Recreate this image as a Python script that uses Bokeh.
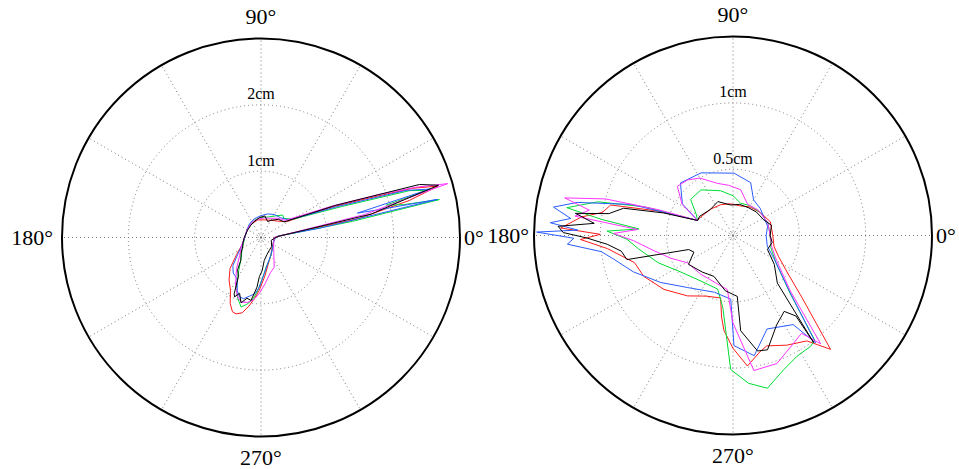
import numpy as np
from bokeh.plotting import figure
from bokeh.layouts import row
from bokeh.models import Range1d
from bokeh.embed import file_html
from bokeh.resources import INLINE
from bokeh.core.properties import value

# ---------------- data (angle in degrees, radius in cm) ----------------
# Left panel (outer ring = 3 cm)
L_black_th = [0, 4, 12, 14.8, 16.4, 18.5, 23.3, 34, 46, 60, 67, 80, 95, 113, 130, 151, 178, 195, 207, 218, 228.6, 234, 240, 244.5, 246, 249, 253, 257, 261, 265.4, 267.6, 272, 278, 290, 303, 320, 345, 356, 360]
L_black_r = [0.22, 0.27, 1.70, 2.24, 2.79, 2.52, 1.23, 0.42, 0.38, 0.30, 0.26, 0.33, 0.30, 0.26, 0.24, 0.23, 0.25, 0.28, 0.31, 0.38, 0.46, 0.60, 0.68, 0.94, 0.98, 0.90, 1.03, 0.94, 0.96, 0.75, 0.59, 0.50, 0.35, 0.27, 0.23, 0.21, 0.16, 0.20, 0.22]

L_magenta_th = [0, 5, 12.5, 15, 16.1, 18, 20, 24, 35, 50, 65, 80, 100, 120, 145, 170, 190, 205, 220, 232, 242, 248, 253, 258, 263, 268, 275, 285, 294, 310, 330, 350, 360]
L_magenta_r = [0.20, 0.30, 1.60, 2.30, 2.93, 2.45, 1.90, 1.15, 0.45, 0.38, 0.32, 0.30, 0.28, 0.27, 0.24, 0.24, 0.27, 0.33, 0.42, 0.60, 0.82, 0.95, 1.02, 1.00, 0.95, 0.85, 0.70, 0.55, 0.49, 0.30, 0.22, 0.20, 0.20]

L_green_th = [0, 5, 10, 12.0, 13, 14.5, 15.8, 17.5, 21, 30, 40, 46, 55, 70, 90, 110, 130, 150, 175, 195, 210, 225, 236, 244, 249, 254, 258, 262, 266, 272, 280, 292, 305, 325, 345, 360]
L_green_r = [0.22, 0.28, 1.40, 2.75, 2.20, 1.95, 2.61, 2.35, 1.30, 0.55, 0.45, 0.47, 0.40, 0.33, 0.30, 0.28, 0.26, 0.24, 0.24, 0.27, 0.33, 0.42, 0.60, 0.85, 0.98, 1.09, 1.03, 0.95, 0.82, 0.62, 0.45, 0.35, 0.28, 0.22, 0.20, 0.22]

L_blue_th = [0, 5, 9, 12.2, 13.2, 14.2, 16.0, 18, 22, 32, 45, 60, 74, 90, 110, 130, 155, 178, 200, 215, 225, 232, 240, 246, 250, 254, 259, 264, 268, 275, 285, 300, 320, 340, 360]
L_blue_r = [0.22, 0.26, 0.90, 2.72, 1.85, 1.50, 2.65, 2.30, 1.25, 0.50, 0.42, 0.40, 0.37, 0.33, 0.30, 0.27, 0.24, 0.24, 0.30, 0.42, 0.60, 0.68, 0.72, 0.88, 0.95, 0.96, 0.90, 0.85, 0.75, 0.55, 0.40, 0.30, 0.23, 0.20, 0.22]

L_red_th = [0, 5, 11, 14, 16.2, 18, 20, 23, 32, 45, 60, 80, 100, 125, 150, 178, 200, 215, 225, 233, 240, 245, 249, 252, 256, 260, 264, 268, 275, 285, 300, 320, 340, 360]
L_red_r = [0.20, 0.27, 1.50, 2.30, 2.78, 2.40, 1.75, 1.20, 0.45, 0.35, 0.30, 0.27, 0.27, 0.25, 0.24, 0.24, 0.30, 0.45, 0.66, 0.80, 0.92, 1.10, 1.20, 1.21, 1.17, 1.05, 0.92, 0.80, 0.60, 0.42, 0.30, 0.22, 0.20, 0.20]

# Right panel (outer ring = 1.5 cm)
R_black_th = [0, 15, 27, 45, 60, 78, 94, 114, 131, 150, 157, 162, 166, 170, 172, 175, 177, 179, 181, 184, 188, 192.8, 197.6, 203, 213, 230, 245, 262, 274, 274.6, 282, 286.8, 296, 304, 308, 307, 313, 325, 338, 350, 360]
R_black_r = [0.28, 0.30, 0.26, 0.25, 0.24, 0.24, 0.23, 0.28, 0.26, 0.29, 0.29, 0.55, 0.85, 0.95, 1.20, 1.05, 1.32, 1.28, 1.10, 0.95, 0.85, 0.82, 0.35, 0.32, 0.40, 0.36, 0.34, 0.42, 0.46, 0.72, 0.89, 0.90, 0.75, 0.69, 0.77, 1.01, 0.49, 0.38, 0.28, 0.30, 0.28]

R_blue_th = [0, 15, 30, 45, 60, 71.5, 89, 117, 135, 148, 157, 163, 168, 171, 174, 176, 178, 179, 181, 183, 187, 191, 200, 213, 229, 252, 268, 270.5, 280, 290, 304, 307.6, 315, 330, 343, 360]
R_blue_r = [0.25, 0.27, 0.27, 0.29, 0.31, 0.42, 0.47, 0.53, 0.56, 0.45, 0.29, 0.80, 1.20, 1.37, 1.23, 1.38, 1.17, 1.48, 1.20, 1.25, 1.00, 0.92, 0.80, 0.65, 0.52, 0.45, 0.48, 0.83, 0.92, 0.75, 0.81, 1.02, 0.61, 0.36, 0.27, 0.25]

R_red_th = [0, 20, 40, 60, 75, 95, 112, 130, 150, 157, 162, 166, 170, 173, 177.5, 179.5, 181.5, 186, 195.4, 204.6, 218, 233, 246, 258.8, 262, 264.6, 270, 276.3, 283, 287, 296, 305, 310.6, 318, 325.5, 335, 345, 360]
R_red_r = [0.30, 0.30, 0.27, 0.25, 0.23, 0.24, 0.25, 0.26, 0.28, 0.29, 0.60, 0.95, 1.00, 1.15, 1.30, 1.00, 1.15, 0.95, 0.77, 0.74, 0.66, 0.57, 0.50, 0.48, 0.62, 0.72, 0.85, 0.99, 0.90, 0.87, 0.92, 0.97, 1.13, 0.70, 0.50, 0.38, 0.32, 0.30]

R_green_th = [0, 20, 40, 60, 76.8, 90, 105.5, 125, 139.6, 150, 157, 162, 166, 170.5, 173, 176, 178, 182, 188, 200, 215, 235, 254, 262, 269, 276, 282.7, 290.8, 298, 305, 308, 315, 328, 342, 360]
R_green_r = [0.28, 0.28, 0.27, 0.26, 0.25, 0.30, 0.35, 0.42, 0.42, 0.32, 0.29, 0.70, 1.05, 1.27, 1.00, 0.71, 0.95, 0.80, 0.72, 0.60, 0.48, 0.42, 0.42, 0.55, 1.01, 1.12, 1.18, 1.08, 1.03, 1.02, 1.00, 0.60, 0.38, 0.30, 0.28]

R_magenta_th = [0, 20, 45, 65, 80.5, 95, 106.6, 120, 129, 138.5, 148.5, 157, 161, 164, 167.4, 170, 173, 176.4, 179, 183, 190, 200, 211, 230, 250, 264, 270, 278.8, 289, 299.6, 305, 309, 316, 330, 345, 360]
R_magenta_r = [0.28, 0.28, 0.27, 0.26, 0.35, 0.38, 0.41, 0.50, 0.54, 0.56, 0.45, 0.29, 0.60, 1.00, 1.30, 1.10, 1.20, 0.72, 0.90, 0.75, 0.62, 0.50, 0.40, 0.38, 0.38, 0.41, 0.66, 1.03, 1.02, 0.93, 0.90, 1.05, 0.60, 0.38, 0.30, 0.28]

spoke_angles = [0, 30, 60, 90, 120, 150, 180, 210, 240, 270, 300, 330]
angle_labels = {0: "0°", 90: "90°", 180: "180°", 270: "270°"}

L_rmax = 3.0
L_rings = [1.0, 2.0]
L_ring_labels = ["1cm", "2cm"]
R_rmax = 1.5
R_rings = [0.5, 1.0]
R_ring_labels = ["0.5cm", "1cm"]

COLORS = {"red": "#ff1a1a", "green": "#00dd33", "blue": "#2a5cff", "magenta": "#ff33ff", "black": "#000000"}

L_series = [("red", L_red_th, L_red_r), ("green", L_green_th, L_green_r), ("blue", L_blue_th, L_blue_r),
            ("magenta", L_magenta_th, L_magenta_r), ("black", L_black_th, L_black_r)]
R_series = [("red", R_red_th, R_red_r), ("green", R_green_th, R_green_r), ("blue", R_blue_th, R_blue_r),
            ("magenta", R_magenta_th, R_magenta_r), ("black", R_black_th, R_black_r)]

FONT = value("Liberation Serif")
H = 469


def polar_panel(width, cx, cy, rmax, rings, ring_labels, series, gap180):
    scale = 199.0 / rmax  # px per cm
    p = figure(width=width, height=H, output_backend="svg", toolbar_location=None,
               x_range=Range1d(-cx / scale, (width - cx) / scale),
               y_range=Range1d(-(H - cy) / scale, cy / scale),
               min_border=0, match_aspect=False)
    p.xaxis.visible = False
    p.yaxis.visible = False
    p.xgrid.visible = False
    p.ygrid.visible = False
    p.outline_line_color = None
    p.background_fill_color = "white"
    p.border_fill_color = "white"

    a = np.deg2rad(spoke_angles)
    p.segment(x0=0, y0=0, x1=rmax * np.cos(a), y1=rmax * np.sin(a),
              line_color="#7a7a7a", line_width=1, line_dash="1 3")
    p.circle(x=[0] * len(rings), y=[0] * len(rings), radius=rings, fill_color=None,
             line_color="#7a7a7a", line_width=1, line_dash="1 3")
    p.circle(x=[0], y=[0], radius=[3.0 / scale], fill_color=None,
             line_color="#7a7a7a", line_width=1, line_dash="1 2")

    for name, th, r in series:
        t = np.deg2rad(np.array(th, dtype=float))
        rr = np.array(r, dtype=float)
        p.line(rr * np.cos(t), rr * np.sin(t), line_color=COLORS[name], line_width=1)

    p.circle(x=[0], y=[0], radius=[rmax], fill_color=None, line_color="black", line_width=2)

    # ring labels
    p.text(x=[0] * len(rings), y=[rv + 11.0 / scale for rv in rings], text=ring_labels,
           text_font=FONT, text_font_size="16px", text_align="center", text_baseline="middle",
           text_color="black")
    # angle labels
    p.text(x=[0], y=[rmax + 22.0 / scale], text=[angle_labels[90]], text_font=FONT, text_font_size="22px",
           text_align="center", text_baseline="middle")
    p.text(x=[0], y=[-(rmax + 21.0 / scale)], text=[angle_labels[270]], text_font=FONT, text_font_size="22px",
           text_align="center", text_baseline="middle")
    p.text(x=[-(rmax + gap180 / scale)], y=[0], text=[angle_labels[180]], text_font=FONT, text_font_size="22px",
           text_align="right", text_baseline="middle")
    p.text(x=[rmax + 4.0 / scale], y=[0], text=[angle_labels[0]], text_font=FONT, text_font_size="22px",
           text_align="left", text_baseline="middle")
    return p


left = polar_panel(487, 260.5, 237.0, L_rmax, L_rings, L_ring_labels, L_series, 9.0)
right = polar_panel(472, 245.5, 235.0, R_rmax, R_rings, R_ring_labels, R_series, 5.0)

layout = row(left, right, spacing=0)
open("out.html", "w").write(file_html(layout, INLINE))
